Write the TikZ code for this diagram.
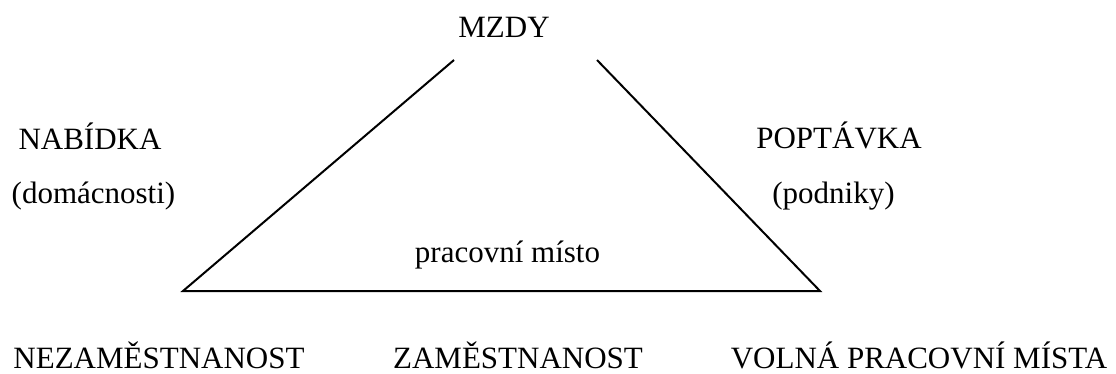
\documentclass[tikz,border=0pt]{standalone}
\usepackage{fontspec}
\setmainfont{Liberation Serif}
\tikzset{
  lbl/.style={anchor=base, inner sep=0pt, font=\fontsize{31}{36}\selectfont},
  edge/.style={line width=2pt, black}
}
\begin{document}
\begin{tikzpicture}[x=1pt, y=-1pt]
  \useasboundingbox (0,0) rectangle (1116,373);
  % labels
  \node[lbl] (mzdy) at (504,37) {MZDY};
  \node[lbl] (nab) at (90,149) {NABÍDKA};
  \node[lbl] (dom) at (93.5,203) {(domácnosti)};
  \node[lbl] (pop) at (839,148) {POPTÁVKA};
  \node[lbl] (pod) at (833.5,203) {(podniky)};
  \node[lbl] (prac) at (507.5,262) {pracovní místo};
  \node[lbl] (nez) at (159,368) {NEZAMĚSTNANOST};
  \node[lbl] (zam) at (518,368) {ZAMĚSTNANOST};
  \node[lbl] (vol) at (919,368) {VOLNÁ PRACOVNÍ MÍSTA};
  % triangle corners
  \coordinate (lt) at (454,60);
  \coordinate (rt) at (597,60);
  \coordinate (lb) at (183,291);
  \coordinate (rb) at (820,291);
  \draw[edge] (lt) -- (lb) -- (rb) -- (rt);
\end{tikzpicture}
\end{document}
